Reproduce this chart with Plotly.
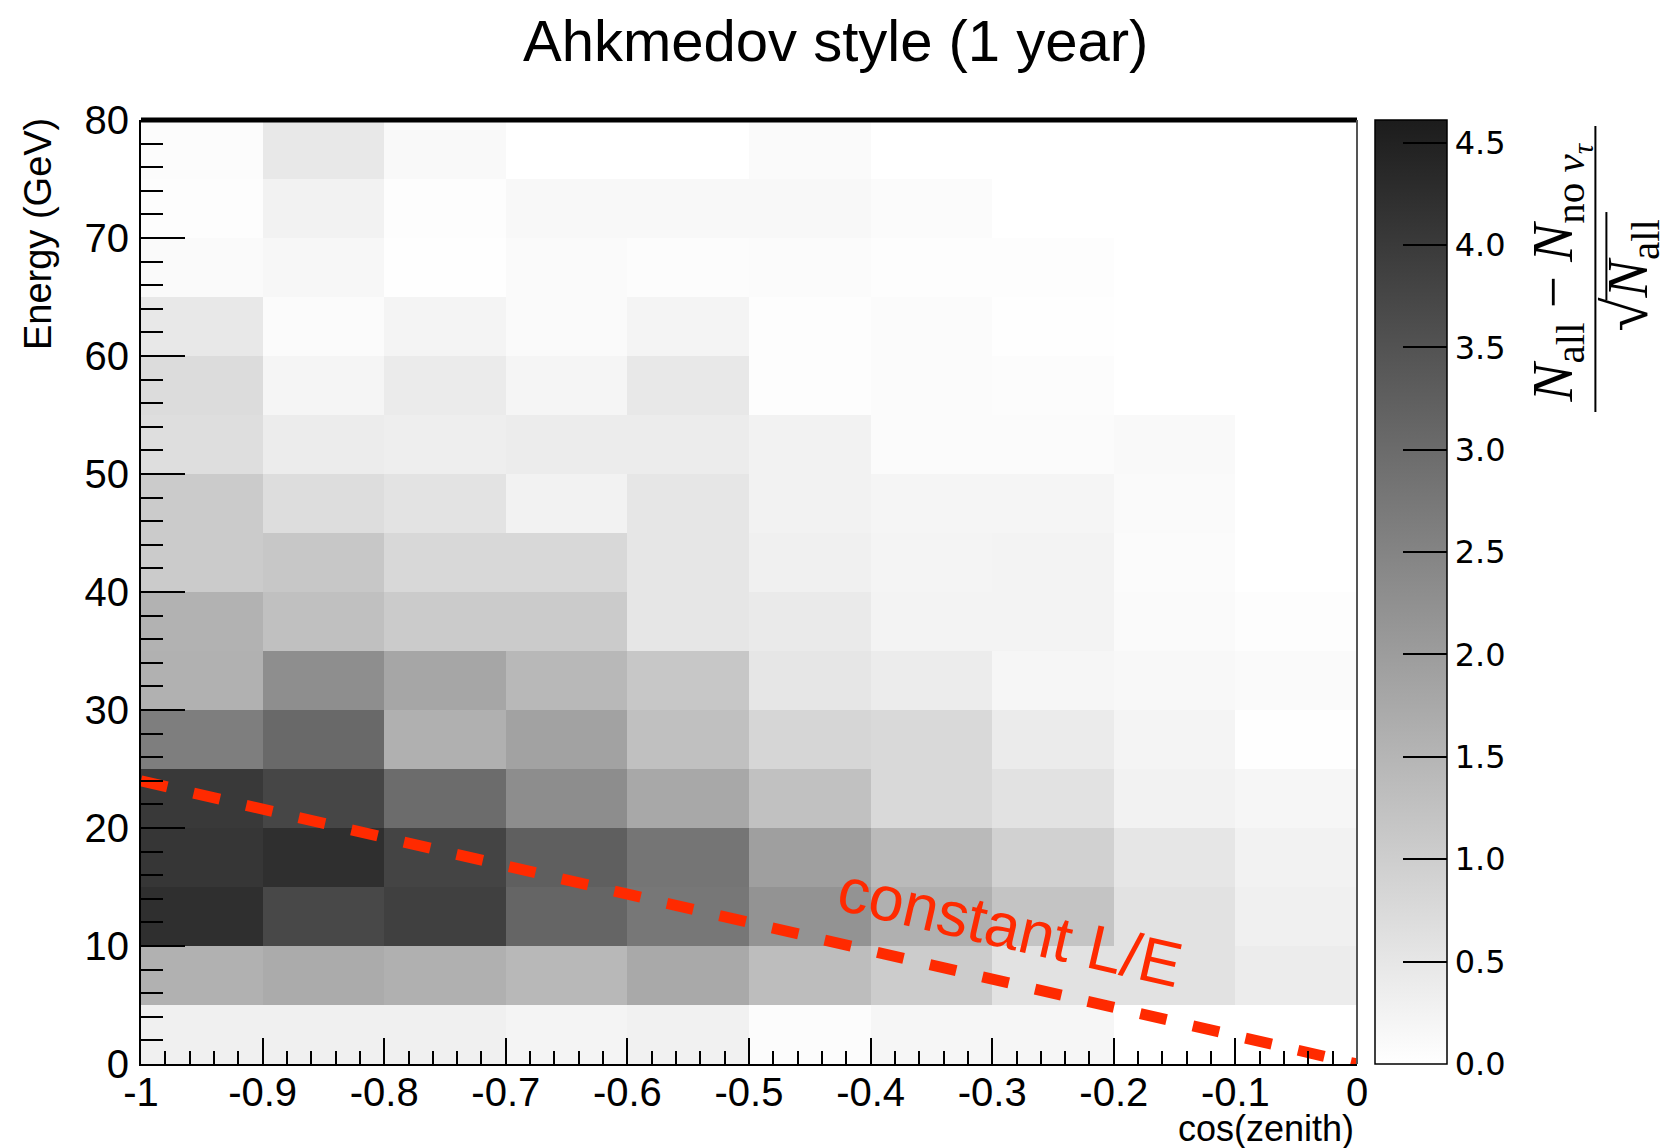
import plotly.graph_objects as go

# bin edges
cos_edges = [-1.0, -0.9, -0.8, -0.7, -0.6, -0.5, -0.4, -0.3, -0.2, -0.1, 0.0]
energy_edges = [0, 5, 10, 15, 20, 25, 30, 35, 40, 45, 50, 55, 60, 65, 70, 75, 80]

# significance per bin, rows from lowest energy bin (0-5 GeV) upward
sig_0_5 = [0.30, 0.30, 0.30, 0.22, 0.28, 0.06, 0.18, 0.18, 0.00, 0.00]
sig_5_10 = [1.58, 1.71, 1.60, 1.44, 1.75, 1.34, 1.04, 0.59, 0.59, 0.39]
sig_10_15 = [4.22, 3.72, 3.88, 3.13, 2.76, 2.19, 1.60, 1.20, 0.59, 0.30]
sig_15_20 = [4.08, 4.22, 3.80, 3.25, 2.80, 1.95, 1.40, 0.93, 0.51, 0.26]
sig_20_25 = [4.02, 3.76, 2.99, 2.32, 1.77, 1.26, 0.77, 0.59, 0.26, 0.18]
sig_25_30 = [2.62, 3.05, 1.60, 1.89, 1.28, 0.83, 0.77, 0.41, 0.22, 0.02]
sig_30_35 = [1.58, 2.30, 1.81, 1.44, 1.14, 0.51, 0.39, 0.18, 0.14, 0.10]
sig_35_40 = [1.56, 1.28, 1.06, 1.06, 0.51, 0.43, 0.24, 0.24, 0.10, 0.04]
sig_40_45 = [1.06, 1.14, 0.79, 0.79, 0.51, 0.30, 0.22, 0.24, 0.08, 0.00]
sig_45_50 = [1.06, 0.69, 0.57, 0.26, 0.51, 0.26, 0.20, 0.20, 0.10, 0.00]
sig_50_55 = [0.67, 0.39, 0.35, 0.39, 0.39, 0.26, 0.08, 0.08, 0.12, 0.00]
sig_55_60 = [0.71, 0.20, 0.41, 0.20, 0.47, 0.04, 0.08, 0.06, 0.00, 0.00]
sig_60_65 = [0.47, 0.08, 0.22, 0.10, 0.22, 0.04, 0.08, 0.02, 0.00, 0.00]
sig_65_70 = [0.10, 0.16, 0.02, 0.10, 0.06, 0.08, 0.04, 0.04, 0.00, 0.00]
sig_70_75 = [0.04, 0.26, 0.04, 0.14, 0.14, 0.14, 0.08, 0.00, 0.00, 0.00]
sig_75_80 = [0.06, 0.47, 0.12, 0.00, 0.00, 0.10, 0.00, 0.00, 0.00, 0.00]

z = [sig_0_5, sig_5_10, sig_10_15, sig_15_20, sig_20_25, sig_25_30, sig_30_35,
     sig_35_40, sig_40_45, sig_45_50, sig_50_55, sig_55_60, sig_60_65, sig_65_70,
     sig_70_75, sig_75_80]

# constant L/E line
le_cos = [-1.0, 0.0]
le_energy = [24.0, 0.0]

cbar_vals = [0.0, 0.5, 1.0, 1.5, 2.0, 2.5, 3.0, 3.5, 4.0, 4.5]
cbar_text = ["%.1f" % v for v in cbar_vals]

x_ticks = [-1, -0.9, -0.8, -0.7, -0.6, -0.5, -0.4, -0.3, -0.2, -0.1, 0]
x_ticktext = ["-1", "-0.9", "-0.8", "-0.7", "-0.6", "-0.5", "-0.4", "-0.3", "-0.2", "-0.1", "0"]
y_ticks = [0, 10, 20, 30, 40, 50, 60, 70, 80]

RED = "#ff2a00"
SANS = "Liberation Sans, Arial, sans-serif"
SERIF = "Liberation Serif, Times New Roman, serif"

# page body has an 8px default margin; figure is sized to fit the window with it
W, H = 1668, 1140
ML, MT, MR, MB = 133, 112, 318.5, 84.4
PW = W - ML - MR
PH = H - MT - MB


def px_x(full_x):
    return (full_x - 8 - ML) / PW


def px_y(full_y):
    return (H - MB - (full_y - 8)) / PH


fig = go.Figure()
fig.add_trace(go.Heatmap(
    x=cos_edges, y=energy_edges, z=z,
    zmin=0, zmax=4.61,
    colorscale=[[0, "#ffffff"], [1, "#1c1c1c"]],
    xgap=0, ygap=0,
    colorbar=dict(
        thickness=72, thicknessmode="pixels",
        len=1, lenmode="fraction",
        x=px_x(1375.5), xanchor="left", xpad=0,
        y=0, yanchor="bottom", ypad=0,
        outlinewidth=1.5, outlinecolor="black",
        ticks="inside", ticklen=44, tickwidth=1.5, tickcolor="black",
        tickvals=cbar_vals, ticktext=cbar_text,
        tickfont=dict(family="DejaVu Sans", size=32, color="black"),
    ),
))
fig.add_trace(go.Scatter(
    x=le_cos, y=le_energy, mode="lines",
    line=dict(color=RED, width=11, dash="27px,27px"),
    hoverinfo="skip", showlegend=False,
))

fig.update_layout(
    width=W, height=H,
    margin=dict(l=ML, r=MR, t=MT, b=MB, pad=0),
    paper_bgcolor="white", plot_bgcolor="white",
    showlegend=False,
    title=dict(text="Ahkmedov style (1 year)", x=px_x(836), xref="paper", xanchor="center",
               y=1 - (41 - 8) / H, yref="container", yanchor="middle",
               font=dict(family=SANS, size=58, color="black")),
)
fig.update_xaxes(
    range=[-1, 0], showgrid=False, zeroline=False,
    showline=True, linecolor="black", linewidth=2,
    ticks="inside", ticklen=26, tickwidth=2, tickcolor="black",
    tickvals=x_ticks, ticktext=x_ticktext,
    minor=dict(dtick=0.02, tick0=-1, ticks="inside", ticklen=13, tickwidth=2, tickcolor="black", showgrid=False),
    tickfont=dict(family=SANS, size=40, color="black"),
    ticklabelstandoff=-8,
    automargin=False,
)
fig.update_yaxes(
    range=[0, 80], showgrid=False, zeroline=False,
    showline=True, linecolor="black", linewidth=2,
    ticks="inside", ticklen=44, tickwidth=2, tickcolor="black",
    tickvals=y_ticks,
    minor=dict(dtick=2, tick0=0, ticks="inside", ticklen=22, tickwidth=2, tickcolor="black", showgrid=False),
    tickfont=dict(family=SANS, size=40, color="black"),
    ticklabelstandoff=2,
    automargin=False,
)

# frame: thick top, thin right
fig.add_shape(type="line", xref="paper", yref="paper", x0=0, x1=1, y0=1, y1=1,
              line=dict(color="black", width=5))
fig.add_shape(type="line", xref="paper", yref="paper", x0=1, x1=1, y0=0, y1=1,
              line=dict(color="#555555", width=2))

# axis titles
fig.add_annotation(text="Energy (GeV)", xref="paper", yref="paper",
                   x=px_x(38), y=px_y(116), xanchor="center", yanchor="top",
                   textangle=-90, showarrow=False,
                   font=dict(family=SANS, size=38, color="black"))
fig.add_annotation(text="cos(zenith)", xref="paper", yref="paper",
                   x=px_x(1356), y=px_y(1128), xanchor="right", yanchor="middle",
                   showarrow=False, font=dict(family=SANS, size=36, color="black"))

# constant L/E label
fig.add_annotation(text="constant L/E", x=-0.285, y=11.6, xref="x", yref="y",
                   textangle=13, showarrow=False,
                   font=dict(family=SANS, size=63, color=RED))

# colorbar title as a fraction
numerator = ("<i>N</i>" + '<sub><span style="font-size:41px">all</span></sub>'
             + " − <i>N</i>"
             + '<sub><span style="font-size:41px">no <i>ν</i></span>'
             + '<sub><span style="font-size:29px"><i>τ</i></span></sub></sub>')
fig.add_annotation(text=numerator,
                   xref="paper", yref="paper", x=px_x(1560), y=px_y(272),
                   xanchor="center", yanchor="middle", textangle=-90, showarrow=False,
                   font=dict(family=SERIF, size=57, color="black"))
fig.add_shape(type="line", xref="paper", yref="paper",
              x0=px_x(1596), x1=px_x(1596),
              y0=px_y(412), y1=px_y(126), line=dict(color="black", width=2))
denominator = ('<span style="font-size:62px">√</span><i>N</i>'
               + '<sub><span style="font-size:41px">all</span></sub>')
fig.add_annotation(text=denominator,
                   xref="paper", yref="paper", x=px_x(1631), y=px_y(275),
                   xanchor="center", yanchor="middle", textangle=-90, showarrow=False,
                   font=dict(family=SERIF, size=56, color="black"))
# vinculum of the square root
fig.add_shape(type="line", xref="paper", yref="paper",
              x0=px_x(1607), x1=px_x(1607),
              y0=px_y(300), y1=px_y(212), line=dict(color="black", width=2))

fig.write_html("out.html")
